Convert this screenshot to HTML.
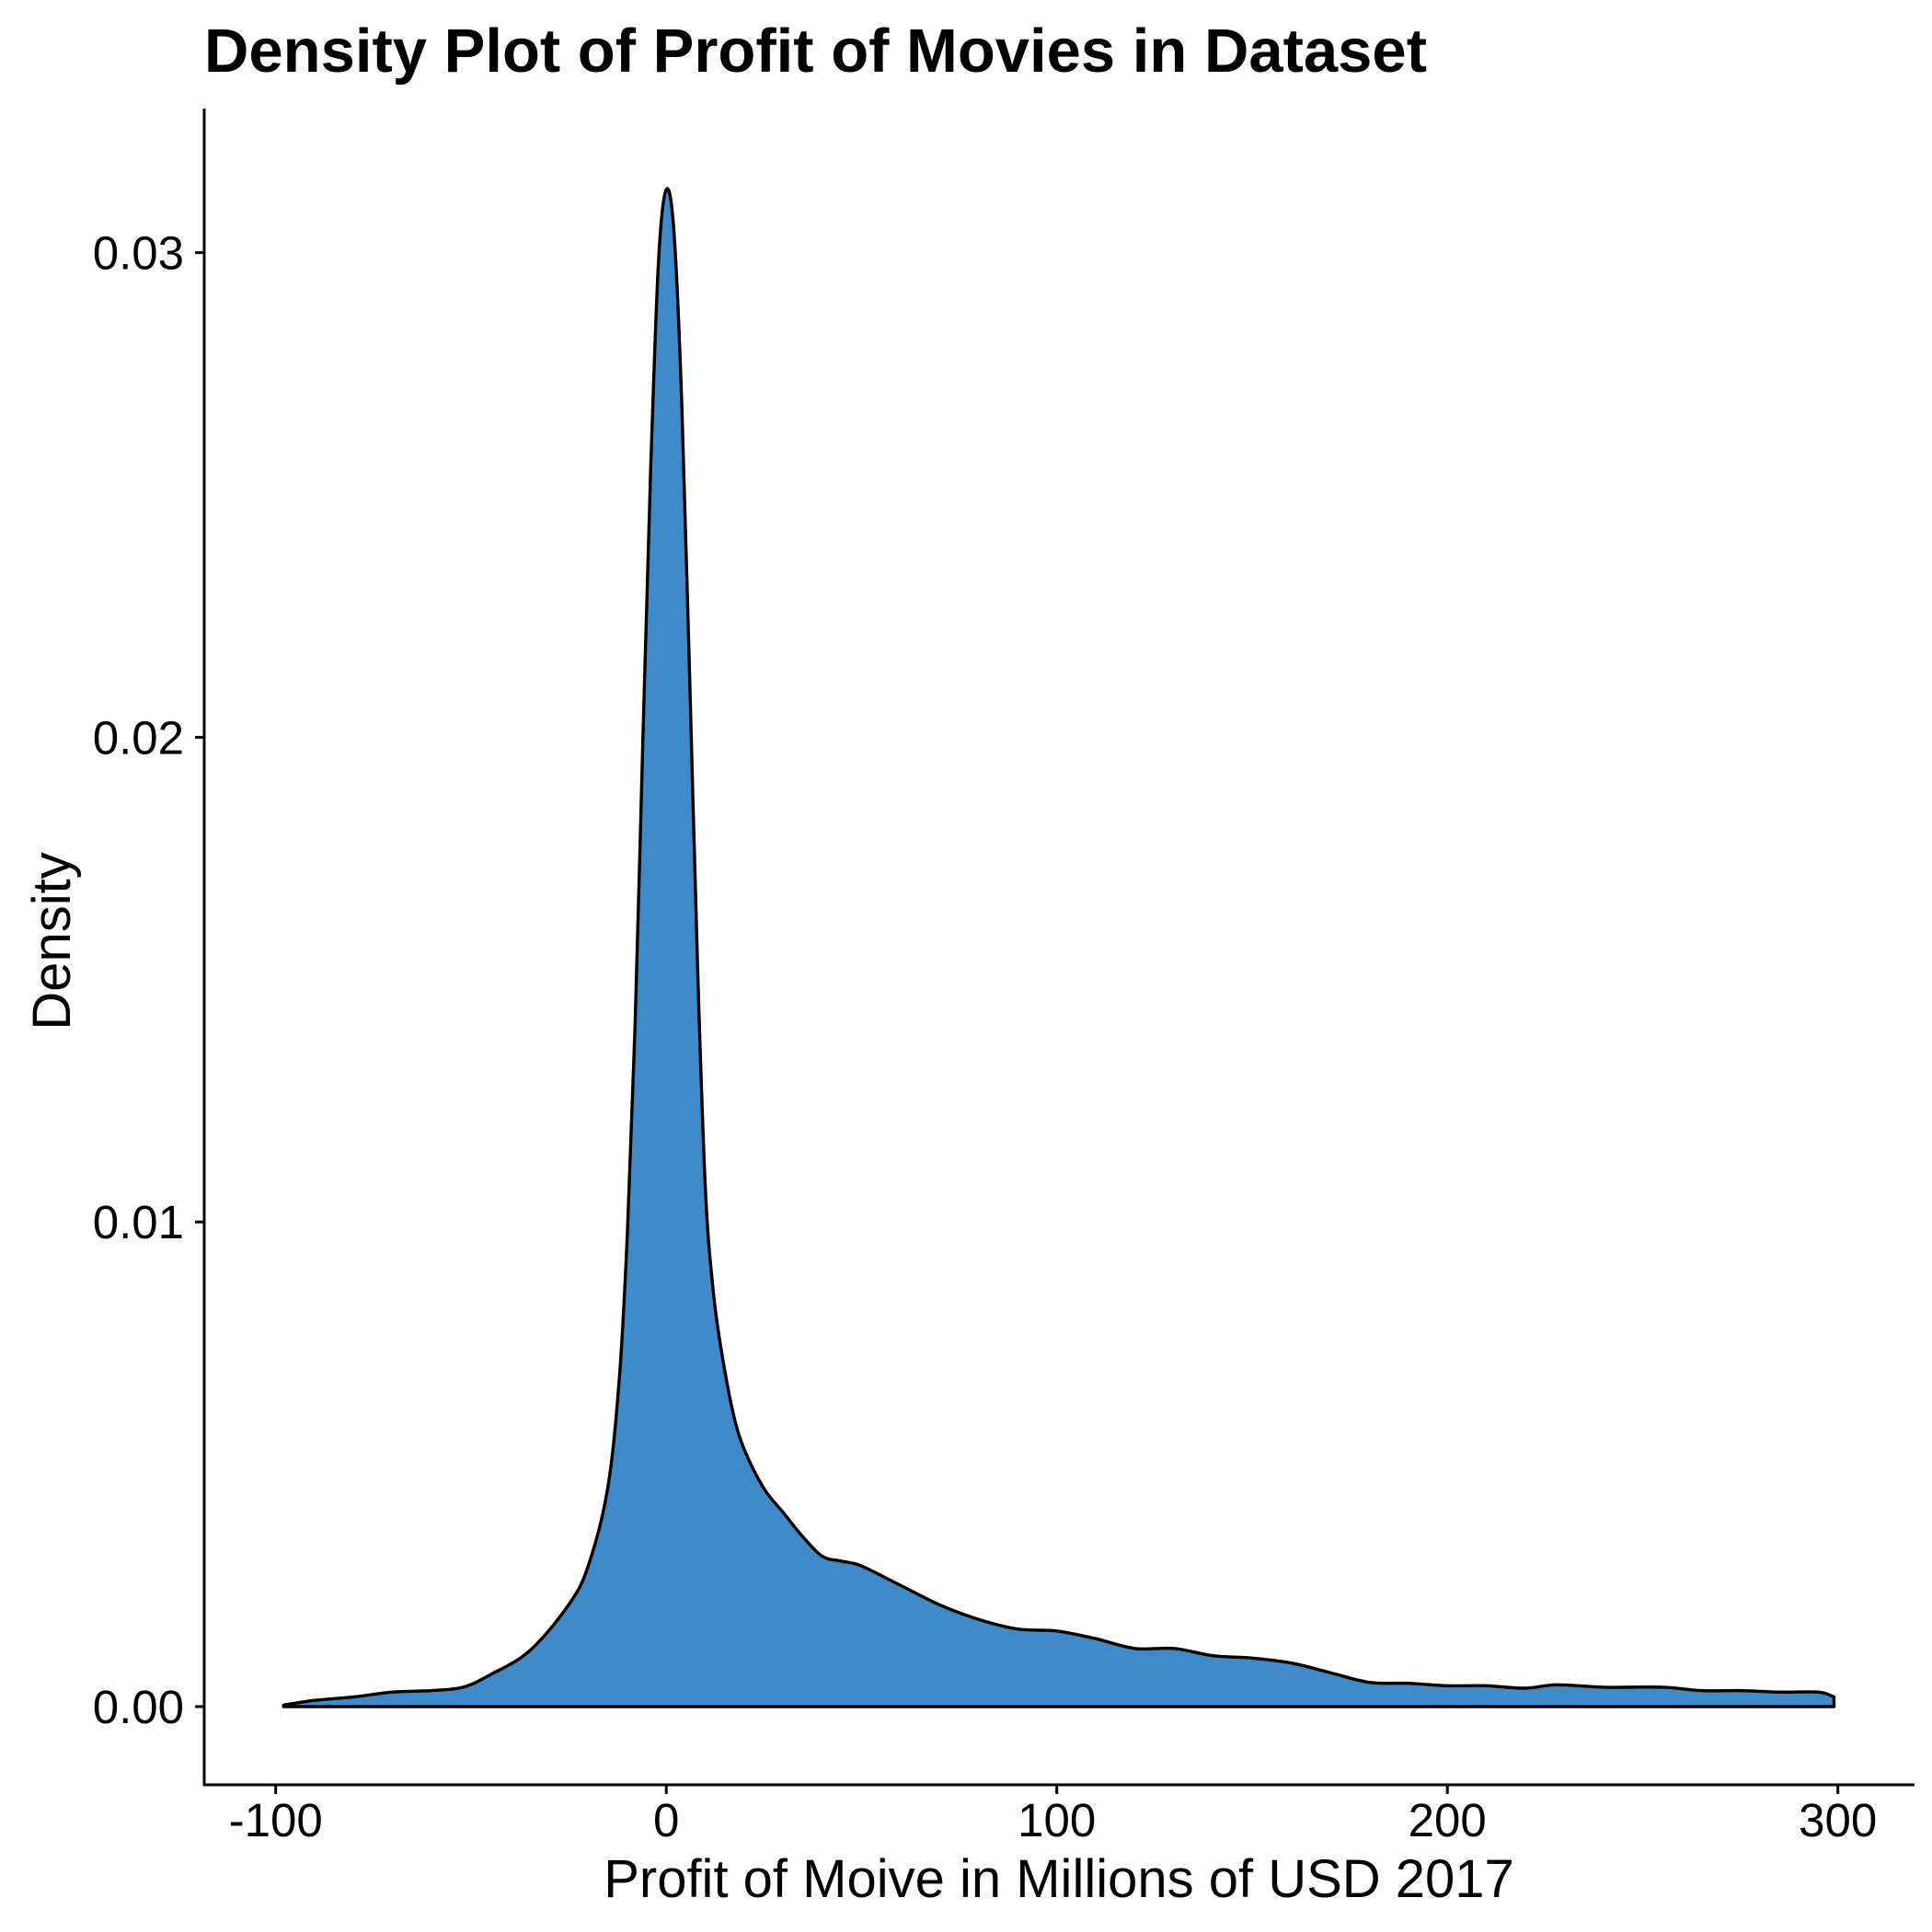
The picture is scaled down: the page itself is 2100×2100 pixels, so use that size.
<!DOCTYPE html>
<html><head><meta charset="utf-8"><style>
html,body{margin:0;padding:0;background:#fff;}
svg{display:block;font-family:"Liberation Sans",Arial,sans-serif;}
</style></head><body>
<svg id="chart" width="2100" height="2100" viewBox="0 0 2100 2100" xmlns="http://www.w3.org/2000/svg">
<text x="222" y="78" font-size="67" font-weight="bold" fill="#000">Density Plot of Profit of Movies in Dataset</text>
<g id="plot"></g>
<text x="1151" y="2062" font-size="58" text-anchor="middle" fill="#000">Profit of Moive in Millions of USD 2017</text>
<text transform="translate(76,1023) rotate(-90)" font-size="58" text-anchor="middle" fill="#000">Density</text>
</svg>
<script>
const profitValues = [-98,-90,-80,-70,-60,-52,-45,-35,-25,-20,-15,-12,-10,-8,-6,-4,-2,0,2,4,6,8,10,12,14,17,20,25,30,35,40,45,50,60,70,80,90,100,110,120,130,140,150,160,170,180,190,200,210,220,228,240,255,265,275,285,295,299];
const densityValues = [0.00003,0.00013,0.0002,0.0003,0.00033,0.0004,0.00066,0.00115,0.0021,0.0029,0.0045,0.0068,0.0097,0.014,0.0199,0.0255,0.0298,0.0313,0.0304,0.0268,0.0212,0.0153,0.0107,0.0086,0.0074,0.0061,0.0053,0.0045,0.004,0.0035,0.0031,0.003,0.0029,0.0025,0.0021,0.0018,0.0016,0.00156,0.0014,0.0012,0.0012,0.00105,0.001,0.0009,0.0007,0.0005,0.00048,0.00043,0.00043,0.00038,0.00045,0.0004,0.0004,0.00033,0.00033,0.0003,0.0003,0.0002];
const xTicks = [-100,0,100,200,300];
const xTickLabels = ["-100","0","100","200","300"];
const yTicks = [0,0.01,0.02,0.03];
const yTickLabels = ["0.00","0.01","0.02","0.03"];

const NS="http://www.w3.org/2000/svg";
const xScale = v => 724.2 + v*4.245;
const yScale = v => 1855 - v*52680;
const g=document.getElementById('plot');
function mk(tag,attrs){const e=document.createElementNS(NS,tag);for(const k in attrs)e.setAttribute(k,attrs[k]);g.appendChild(e);return e;}

const pts=profitValues.map((v,i)=>[xScale(v),yScale(densityValues[i])]);
let d="M"+pts[0][0].toFixed(1)+","+yScale(0)+" L"+pts[0][0].toFixed(1)+","+pts[0][1].toFixed(1);
for(let i=0;i<pts.length-1;i++){
  const p0=pts[Math.max(0,i-1)],p1=pts[i],p2=pts[i+1],p3=pts[Math.min(pts.length-1,i+2)];
  const c1=[p1[0]+(p2[0]-p0[0])/6,p1[1]+(p2[1]-p0[1])/6];
  const c2=[p2[0]-(p3[0]-p1[0])/6,p2[1]-(p3[1]-p1[1])/6];
  d+=" C"+c1[0].toFixed(1)+","+c1[1].toFixed(1)+" "+c2[0].toFixed(1)+","+c2[1].toFixed(1)+" "+p2[0].toFixed(1)+","+p2[1].toFixed(1);
}
d+=" L"+pts[pts.length-1][0].toFixed(1)+","+yScale(0)+" Z";
const area=mk('path',{d:d,fill:'#3F8AC8',stroke:'#000','stroke-width':3.4,'stroke-linejoin':'round'});



const xa=mk('line',{x1:222,y1:1940,x2:2081,y2:1940,stroke:'#000','stroke-width':3});


const ya=mk('line',{x1:222,y1:118,x2:222,y2:1941.5,stroke:'#000','stroke-width':3});



xTicks.forEach((t,i)=>{
  const x=xScale(t);
  const tk=mk('line',{x1:x,y1:1940,x2:x,y2:1950,stroke:'#000','stroke-width':3});
  
  
  const lb=mk('text',{x:x,y:1996,'font-size':51,'text-anchor':'middle',fill:'#000'});
  lb.textContent=xTickLabels[i];
  
  
});
yTicks.forEach((t,i)=>{
  const y=yScale(t);
  const tk=mk('line',{x1:212,y1:y,x2:222,y2:y,stroke:'#000','stroke-width':3});
  
  
  const lb=mk('text',{x:200,y:y+18,'font-size':51,'text-anchor':'end',fill:'#000'});
  lb.textContent=yTickLabels[i];
  
  
});
</script>
</body></html>
